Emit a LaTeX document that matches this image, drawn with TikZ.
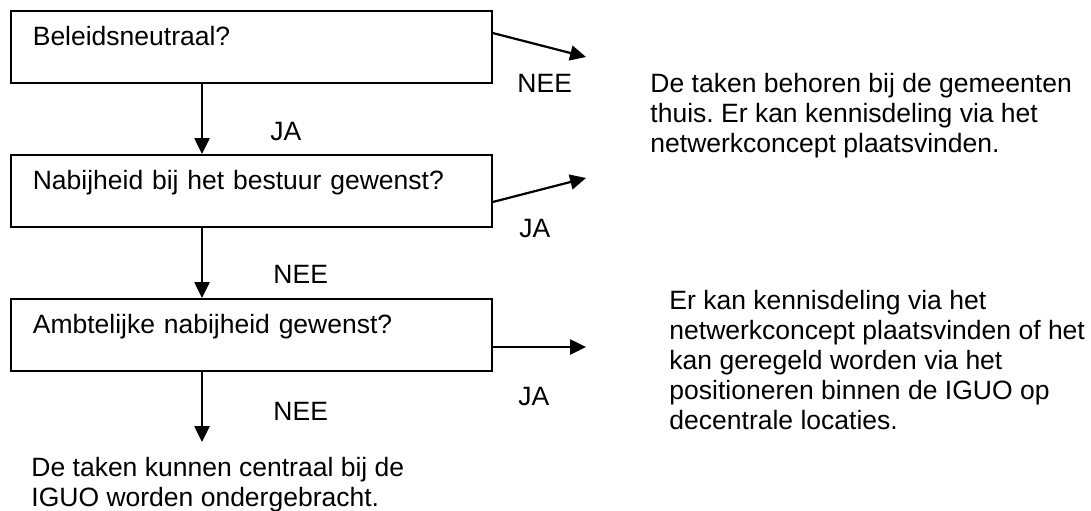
\documentclass[tikz,border=0pt]{standalone}
\usepackage{fontspec}
\setmainfont{Liberation Sans}
\usepackage{tikz}
\usetikzlibrary{arrows.meta, calc}
\frenchspacing

\begin{document}
\begin{tikzpicture}[x=0.4528pt, y=-0.4528pt, font=\fontsize{12}{13.5}\selectfont,
  qbox/.style={draw, line width=0.75pt, anchor=north west, inner xsep=9.96pt, inner ysep=0pt,
    text width=197.9pt, text height=15.85pt, text depth=16.75pt, align=left},
  flow/.style={line width=1pt, -{Triangle[length=7.2pt,width=6.8pt]}},
  txt/.style={anchor=base west, inner sep=0pt, align=left}]
\useasboundingbox (0,0) rectangle (1091,510);
% question boxes (1 unit = 1 px of the 1091x510 sheet)
\node[qbox] (b1) at (10,10) {Beleidsneutraal?};
\node[qbox] (b2) at (10,154) {Nabijheid bij het bestuur gewenst?};
\node[qbox] (b3) at (10,298) {Ambtelijke nabijheid gewenst?};
% outcomes on the right and at the bottom (placed by their last line)
\node[txt] (r1) at (650,152) {De taken behoren bij de gemeenten\\thuis. Er kan kennisdeling via het\\netwerkconcept plaatsvinden.};
\node[txt] (r3) at (669,429) {Er kan kennisdeling via het\\netwerkconcept plaatsvinden of het\\kan geregeld worden via het\\positioneren binnen de IGUO op\\decentrale locaties.};
\node[txt] (eind) at (31,506) {De taken kunnen centraal bij de\\IGUO worden ondergebracht.};
% arrow ends
\coordinate (p1) at (586,57);
\coordinate (p2) at (586,178);
\coordinate (p3) at (586,347);
\coordinate (e3) at (202,442);
% down the column
\draw[flow] ($(b1.south west)+(192,0)$) -- ($(b2.north west)+(192,0)$);
\draw[flow] ($(b2.south west)+(192,0)$) -- ($(b3.north west)+(192,0)$);
\draw[flow] ($(b3.south west)+(192,0)$) -- (e3);
% out to the right
\draw[flow] ($(b1.north east)+(0,23)$) -- (p1);
\draw[flow] ($(b2.north east)+(0,48)$) -- (p2);
\draw[flow] ($(b3.north east)+(0,49)$) -- (p3);
% answers
\node[txt] (ja1) at (270,140) {JA};
\node[txt] (nee2) at (273,283) {NEE};
\node[txt] (nee3) at (273,420) {NEE};
\node[txt] (nee1) at (517,92) {NEE};
\node[txt] (ja2) at (519,237) {JA};
\node[txt] (ja3) at (518,405) {JA};
\end{tikzpicture}
\end{document}
